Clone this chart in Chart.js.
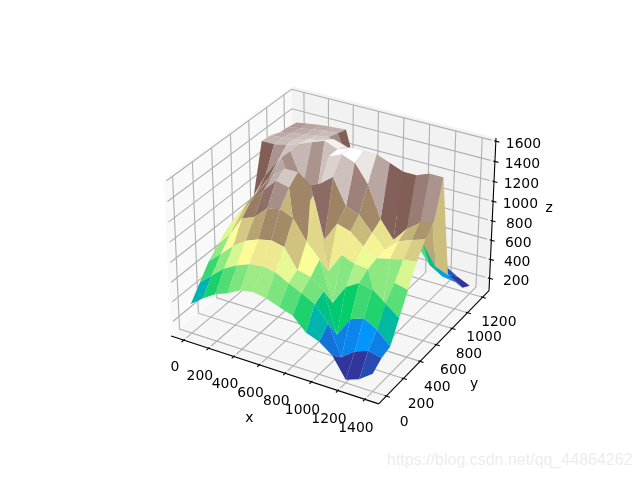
<!DOCTYPE html>
<html><head><meta charset="utf-8">
<style>html,body{margin:0;padding:0;background:#fff}canvas{display:block}</style>
<script src="https://cdn.jsdelivr.net/npm/chart.js@4"></script></head>
<body><canvas id="c" width="640" height="480"></canvas>
<script>
const xValues=[0,100,200,300,400,500,600,700,800,900,1000,1100,1200,1300,1400];
const yValues=[0,100,200,300,400,500,600,700,800,900,1000,1100,1200];
const zRow0=[370,470,550,600,670,690,670,620,580,450,400,300,100,150,250];
const zRow1=[510,620,730,800,850,870,850,780,720,650,500,200,300,350,320];
const zRow2=[650,760,880,970,1020,1050,1020,830,800,700,300,500,550,480,350];
const zRow3=[740,880,1080,1130,1250,1280,1230,1040,900,500,700,780,750,650,550];
const zRow4=[830,980,1180,1320,1450,1420,300,1300,700,900,850,840,380,780,750];
const zRow5=[880,1060,1230,1390,1500,1500,1400,900,1100,1060,950,870,900,930,950];
const zRow6=[910,1090,1270,1500,1200,1100,1350,1450,1200,1150,1010,880,1000,1050,1100];
const zRow7=[950,1190,1370,1500,1200,1100,1550,1600,1550,1380,1070,900,1050,1150,1200];
const zRow8=[1430,1430,1460,1500,1550,1600,1550,1600,1600,1600,1550,1500,1500,1550,1550];
const zRow9=[1420,1430,1450,1480,1500,1550,1510,1430,1300,1200,980,850,750,550,500];
const zRow10=[1380,1410,1430,1450,1470,1320,1280,1200,1080,940,780,620,450,370,350];
const zRow11=[1370,1390,1410,1430,1440,1140,1110,1050,950,820,690,540,380,300,210];
const zRow12=[1350,1370,1390,1400,1410,960,940,880,800,690,570,430,290,210,150];
const zRows=[zRow0,zRow1,zRow2,zRow3,zRow4,zRow5,zRow6,zRow7,zRow8,zRow9,zRow10,zRow11,zRow12];
const xTicks=[0,200,400,600,800,1000,1200,1400];
const yTicks=[0,200,400,600,800,1000,1200];
const zTicks=[200,400,600,800,1000,1200,1400,1600];
const axisNames=['x','y','z'];
const watermark='https://blog.csdn.net/qq_44864262';

// axis limits
const lim={x:[-70,1470],y:[-60,1260],z:[100,1600]};
const d={x:(lim.x[1]-lim.x[0])/12,y:(lim.y[1]-lim.y[0])/12,z:(lim.z[1]-lim.z[0])/12};
const pane={x:[lim.x[0]-d.x/4,lim.x[1]+d.x/4],y:[lim.y[0]-d.y/4,lim.y[1]+d.y/4],z:[lim.z[0]-d.z/4,lim.z[1]+d.z/4]};

// 3D view (elev 30, azim -60, dist 10, box 4:4:3)
const el=30*Math.PI/180,az=-60*Math.PI/180,dist=10;
const k0=1.8294640721620434/Math.sqrt(41);
const box=[4*k0,4*k0,3*k0];
const R=box.map(v=>v/2);
const E=[R[0]+dist*Math.cos(az)*Math.cos(el),R[1]+dist*Math.sin(az)*Math.cos(el),R[2]+dist*Math.sin(el)];
const sub=(a,b)=>a.map((v,i)=>v-b[i]),dot=(a,b)=>a[0]*b[0]+a[1]*b[1]+a[2]*b[2];
const cross=(a,b)=>[a[1]*b[2]-a[2]*b[1],a[2]*b[0]-a[0]*b[2],a[0]*b[1]-a[1]*b[0]];
const norm=a=>{const l=Math.sqrt(dot(a,a));return a.map(v=>v/l)};
const n=norm(sub(E,R)),u=norm(cross([0,0,1],n)),v=cross(n,u);
function proj(x,y,z){
  const P=[(x-lim.x[0])/(lim.x[1]-lim.x[0])*box[0],(y-lim.y[0])/(lim.y[1]-lim.y[0])*box[1],(z-lim.z[0])/(lim.z[1]-lim.z[0])*box[2]];
  const q=sub(P,E),w=-dot(n,q);
  return {x:dot(u,q)/w,y:dot(v,q)/w,w};
}
// terrain colormap
const stops=[[0,.2,.2,.6],[.15,0,.6,1],[.25,0,.8,.4],[.5,1,1,.6],[.75,.5,.36,.33],[1,1,1,1]];
function terrain(t){
  t=Math.min(255,Math.floor(t*256))/255;
  for(let i=1;i<stops.length;i++){ if(t<=stops[i][0]){
    const a=stops[i-1],b=stops[i],f=(t-a[0])/(b[0]-a[0]);
    return 'rgb('+[1,2,3].map(c=>Math.round(255*(a[c]+(b[c]-a[c])*f))).join(',')+')';
  }}
  return '#fff';
}
const datasets=[];
function poly(pts,color){datasets.push({data:pts.map(p=>{const q=proj(p[0],p[1],p[2]);return{x:q.x,y:q.y}}),showLine:true,fill:'shape',backgroundColor:color,borderWidth:0,pointRadius:0,tension:0});}
function line(pts,color,w){datasets.push({data:pts.map(p=>{const q=proj(p[0],p[1],p[2]);return{x:q.x,y:q.y}}),showLine:true,fill:false,borderColor:color,borderWidth:w,pointRadius:0,tension:0,borderCapStyle:'butt'});}
const X=pane.x,Y=pane.y,Z=pane.z;
// panes
poly([[X[0],Y[0],Z[0]],[X[0],Y[1],Z[0]],[X[0],Y[1],Z[1]],[X[0],Y[0],Z[1]],[X[0],Y[0],Z[0]]],'rgb(249,249,249)');
poly([[X[0],Y[1],Z[0]],[X[1],Y[1],Z[0]],[X[1],Y[1],Z[1]],[X[0],Y[1],Z[1]],[X[0],Y[1],Z[0]]],'rgb(242,242,242)');
poly([[X[0],Y[0],Z[0]],[X[1],Y[0],Z[0]],[X[1],Y[1],Z[0]],[X[0],Y[1],Z[0]],[X[0],Y[0],Z[0]]],'rgb(246,246,246)');
// grid
const gc='#b0b0b0',gw=1.1;
xTicks.forEach(t=>line([[t,lim.y[0],Z[0]],[t,Y[1],Z[0]],[t,Y[1],lim.z[1]]],gc,gw));
yTicks.forEach(t=>line([[X[1],t,Z[0]],[X[0],t,Z[0]],[X[0],t,lim.z[1]]],gc,gw));
zTicks.forEach(t=>line([[X[0],lim.y[0],t],[X[0],Y[1],t],[lim.x[1],Y[1],t]],gc,gw));
// axis lines
line([[X[0],Y[0],Z[0]],[X[1],Y[0],Z[0]]],'#000',1.1);
line([[X[1],Y[0],Z[0]],[X[1],Y[1],Z[0]]],'#000',1.1);
line([[X[1],Y[1],Z[0]],[X[1],Y[1],Z[1]]],'#000',1.1);
// ticks
xTicks.forEach(t=>line([[t,Y[0]+.1*d.y,Z[0]],[t,Y[0]-.2*d.y,Z[0]]],'#000',1.1));
yTicks.forEach(t=>line([[X[1]-.1*d.x,t,Z[0]],[X[1]+.2*d.x,t,Z[0]]],'#000',1.1));
zTicks.forEach(t=>line([[X[1]-.1*d.x,Y[1],t],[X[1]+.2*d.x,Y[1],t]],'#000',1.1));
// surface
const quads=[];
for(let j=0;j<yValues.length-1;j++)for(let i=0;i<xValues.length-1;i++){
  const c=[[i,j],[i+1,j],[i+1,j+1],[i,j+1]].map(([a,b])=>[xValues[a],yValues[b],zRows[b][a]]);
  quads.push({c,avg:c.reduce((s,p)=>s+p[2],0)/4,depth:c.reduce((s,p)=>s-10/proj(p[0],p[1],p[2]).w,0)/4});
}
const amin=Math.min(...quads.map(q=>q.avg)),amax=Math.max(...quads.map(q=>q.avg));
quads.sort((a,b)=>b.depth-a.depth);
quads.forEach(q=>poly(q.c.concat([q.c[0]]),terrain((q.avg-amin)/(amax-amin))));
datasets.reverse();

// viewport of the axes
const pxPerUnit=369.6/0.185;
const xMin=-0.095-143.2/pxPerUnit,yMin=-0.095-52.8/pxPerUnit;

const labels3d={
  id:'labels3d',
  afterDatasetsDraw(chart){
    const c=chart.ctx,sx=chart.scales.x,sy=chart.scales.y;
    const put=(s,p)=>{const q=proj(p[0],p[1],p[2]);c.fillText(s,sx.getPixelForValue(q.x),sy.getPixelForValue(q.y));};
    c.save();c.fillStyle='#000';c.textAlign='center';c.textBaseline='middle';
    c.font='13.9px "DejaVu Sans"';
    const K2=2.28;
    xTicks.forEach(t=>put(String(t),[t,Y[0]-.9*d.y,Z[0]-1.63*d.z]));
    yTicks.forEach(t=>put(String(t),[X[1]+1.04*d.x,t,Z[0]-1.69*d.z]));
    zTicks.forEach(t=>put(String(t),[X[1]+1.41*d.x,Y[1]+.4*d.y,t]));
    put(axisNames[0],[(X[0]+X[1])/2,Y[0]-K2*d.y,Z[0]-K2*d.z]);
    put(axisNames[1],[X[1]+K2*d.x,(Y[0]+Y[1])/2,Z[0]-K2*d.z]);
    put(axisNames[2],[X[1]+K2*d.x,Y[1]+K2*d.y,(Z[0]+Z[1])/2]);
    c.font='16px "Liberation Sans"';c.fillStyle='rgb(236,236,236)';c.textAlign='left';
    c.fillText(watermark,387,461);
    c.restore();
  }
};
new Chart(document.getElementById('c'),{type:'scatter',data:{datasets},plugins:[labels3d],options:{
  responsive:false,animation:false,events:[],
  layout:{padding:0},
  plugins:{legend:{display:false},tooltip:{enabled:false},title:{display:false}},
  scales:{x:{type:'linear',display:false,min:xMin,max:xMin+640/pxPerUnit},y:{type:'linear',display:false,min:yMin,max:yMin+480/pxPerUnit}}
}});
</script></body></html>
